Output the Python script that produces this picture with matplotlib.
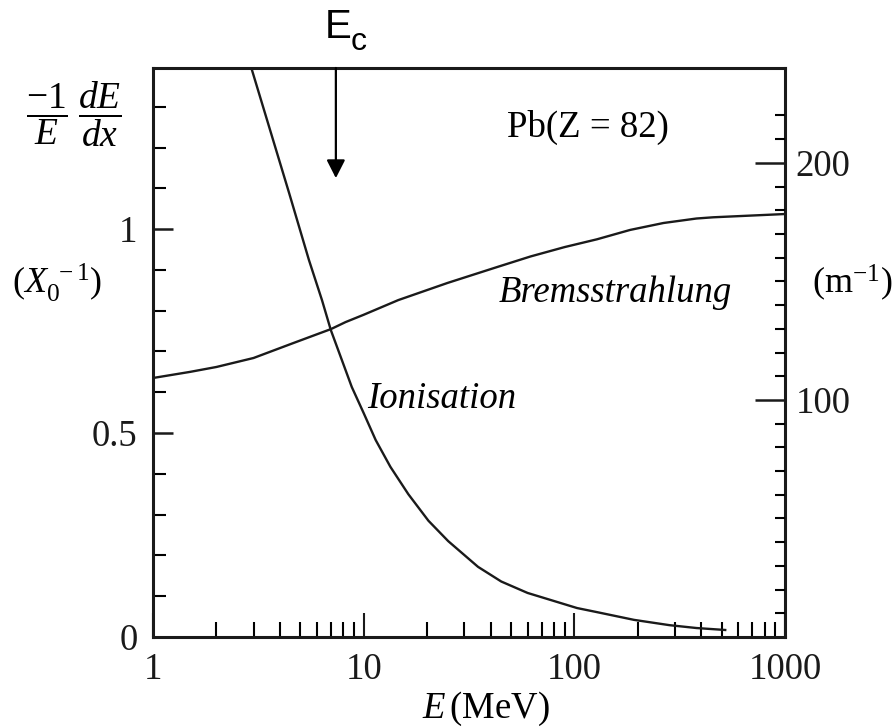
import matplotlib
matplotlib.use('Agg')
import matplotlib.pyplot as plt
from matplotlib.ticker import FixedLocator, FixedFormatter, NullFormatter

plt.rcParams['font.family'] = ['Liberation Serif', 'DejaVu Serif']
plt.rcParams['mathtext.fontset'] = 'custom'
plt.rcParams['mathtext.rm'] = 'Liberation Serif'
plt.rcParams['mathtext.it'] = 'Liberation Serif:italic'
plt.rcParams['mathtext.bf'] = 'Liberation Serif:bold'

# ---- data ----
energy_brems = [1, 1.5, 2, 3, 4.6, 7.0, 8.2, 10, 14.6, 25, 43, 62, 90, 128, 184,
                265, 380, 457, 1000]
brems = [0.635, 0.650, 0.662, 0.684, 0.720, 0.755, 0.772, 0.790, 0.826, 0.868,
         0.907, 0.933, 0.956, 0.975, 0.998, 1.015, 1.026, 1.029, 1.037]
energy_ion = [2.93, 4.43, 5.5, 6.34, 6.99, 7.88, 8.78, 10.0, 11.4, 13.4, 16.3,
              20.3, 25.2, 34.9, 45, 60, 103, 128, 192, 283, 380, 527]
ion = [1.395, 1.088, 0.924, 0.826, 0.752, 0.679, 0.613, 0.549, 0.483, 0.417,
       0.350, 0.285, 0.235, 0.172, 0.136, 0.108, 0.071, 0.061, 0.042, 0.029,
       0.022, 0.017]
critical_energy = 7.38

x_major = [1, 10, 100, 1000]
x_major_labels = ['1', '10', '100', '1000']
x_minor = [2, 3, 4, 5, 6, 7, 8, 9, 20, 30, 40, 50, 60, 70, 80, 90,
           200, 300, 400, 500, 600, 700, 800, 900]
y_major = [0, 0.5, 1]
y_major_labels = ['0', '0.5', '1']
y_minor = [0.1, 0.2, 0.3, 0.4, 0.6, 0.7, 0.8, 0.9, 1.1, 1.2, 1.3]
r_major = [100, 200]
r_major_labels = ['100', '200']
r_minor = [10, 20, 30, 40, 50, 60, 70, 80, 90, 110, 120, 130, 140, 150,
           160, 170, 180, 190, 210, 220]

W, H = 894, 728
fig = plt.figure(figsize=(W / 100, H / 100), dpi=100)
L, R, T, B = 153, 785, 68, 637
ax = fig.add_axes([L / W, 1 - B / H, (R - L) / W, (B - T) / H])


def px(x, y):
    return x / W, 1 - y / H


ax.set_xscale('log')
ax.set_xlim(1, 1000)
ax.set_ylim(0, 1.395)

lw_curve = 1.7
ax.plot(energy_brems, brems, color='#1a1a1a', lw=lw_curve, solid_capstyle='butt',
        solid_joinstyle='round')
ax.plot(energy_ion, ion, color='#1a1a1a', lw=lw_curve, solid_capstyle='butt',
        solid_joinstyle='round')

for s in ax.spines.values():
    s.set_linewidth(2.2)
    s.set_color('#1a1a1a')

ax.xaxis.set_major_locator(FixedLocator(x_major))
ax.xaxis.set_major_formatter(FixedFormatter(x_major_labels))
ax.xaxis.set_minor_locator(FixedLocator(x_minor))
ax.xaxis.set_minor_formatter(NullFormatter())
ax.yaxis.set_major_locator(FixedLocator(y_major))
ax.yaxis.set_major_formatter(FixedFormatter(y_major_labels))
ax.yaxis.set_minor_locator(FixedLocator(y_minor))
ax.yaxis.set_minor_formatter(NullFormatter())

ax.tick_params(axis='x', which='major', direction='in', length=17, width=1.5,
               labelsize=26.5, pad=11, colors='#1a1a1a', top=False)
ax.tick_params(axis='x', which='minor', direction='in', length=11, width=1.5, top=False)
ax.tick_params(axis='y', which='major', direction='in', length=14.5, width=1.8,
               labelsize=26.5, pad=11, colors='#1a1a1a', right=False)
ax.tick_params(axis='y', which='minor', direction='in', length=9.5, width=1.5, right=False)

ax2 = ax.twinx()
ax2.set_ylim(0, 240)
for s in ax2.spines.values():
    s.set_visible(False)
ax2.yaxis.set_major_locator(FixedLocator(r_major))
ax2.yaxis.set_major_formatter(FixedFormatter(r_major_labels))
ax2.yaxis.set_minor_locator(FixedLocator(r_minor))
ax2.yaxis.set_minor_formatter(NullFormatter())
ax2.tick_params(axis='y', which='major', direction='in', length=21.5, width=1.8,
                labelsize=26.5, pad=7.5, colors='#1a1a1a')
ax2.tick_params(axis='y', which='minor', direction='in', length=7.5, width=1.5)

# Critical energy arrow
ax.annotate('', xy=(critical_energy, 1.125), xytext=(critical_energy, 1.395),
            arrowprops=dict(arrowstyle='-|>,head_length=0.55,head_width=0.28',
                            mutation_scale=20, color='black', lw=1.6,
                            shrinkA=0, shrinkB=0), annotation_clip=False)

fig.text(*px(325, 38), 'E', fontsize=29, family='Liberation Sans', ha='left', va='baseline')
fig.text(*px(351, 50), 'c', fontsize=23, family='Liberation Sans', ha='left', va='baseline')

# In-plot labels
fig.text(*px(507, 137), 'Pb(Z = 82)', fontsize=26.5, ha='left', va='baseline')
fig.text(*px(499, 302), 'Bremsstrahlung', fontsize=26.5, style='italic', ha='left', va='baseline')
fig.text(*px(367, 408), 'Ionisation', fontsize=26.5, style='italic', ha='left', va='baseline')

# Axis labels
fig.text(*px(74, 114), r'$\dfrac{-1}{E}\;\dfrac{dE}{dx}$', fontsize=27, ha='center', va='center')
fig.text(*px(12, 293), r'$(X_0^{\ -1})$', fontsize=26, ha='left', va='baseline')
fig.text(*px(812, 293), r'(m$^{-1}$)', fontsize=26, ha='left', va='baseline')
fig.text(*px(422, 718), r'$E\,$(MeV)', fontsize=26.5, ha='left', va='baseline')

fig.savefig('out.png', dpi=100, facecolor='white')
